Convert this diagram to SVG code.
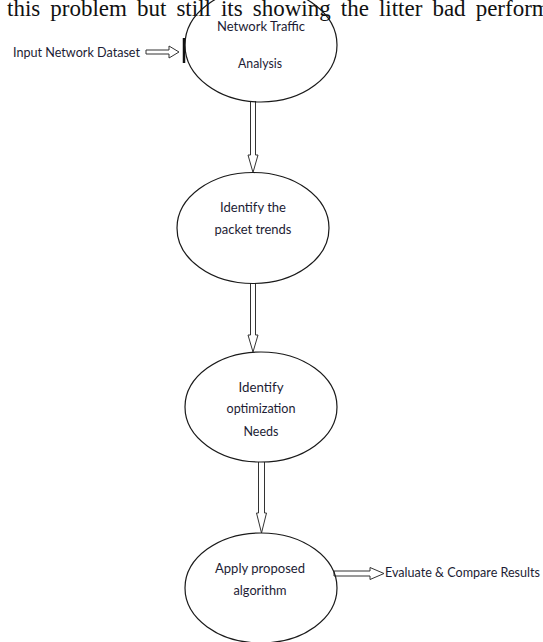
<svg xmlns="http://www.w3.org/2000/svg" width="543" height="642" viewBox="0 0 543 642">
<style>
.bg{fill:#ffffff}
.hdr{font-family:"Liberation Serif","Times New Roman",serif;font-size:23px;fill:#111;word-spacing:4.3px}
.lbl{font-family:Lato,"Liberation Sans",Arial,sans-serif;font-size:14px;fill:#1c1c34}
.mid{text-anchor:middle}
.node{fill:none;stroke:#1a1a1a;stroke-width:1.2}
.arr{fill:#ffffff;stroke:#333;stroke-width:1}
.bar{stroke:#111;stroke-width:2.5}
</style>
<rect class="bg" x="0" y="0" width="543" height="642"/>
<text class="hdr" x="7" y="16">this problem but still its showing the litter bad perform</text>
<g id="connectors">
  <path class="arr" d="M146,50 H169 V46 L179,52 L169,58 V54 H146 Z"/>
  <line class="bar" x1="184" y1="38" x2="184" y2="63"/>
  <path class="arr" d="M250.5,101 V155 H248 L253,172.5 L258,155 H255.5 V101"/>
  <path class="arr" d="M250.5,283 V335 H248 L253,352 L258,335 H255.5 V283"/>
  <path class="arr" d="M258.5,462 V513 H256.5 L261.5,533 L266.5,513 H264.5 V462"/>
  <path class="arr" d="M334,571 H370 V567.5 L384,573.5 L370,579.5 V576 H334 Z"/>
</g>
<g id="input">
  <text class="lbl" x="13" y="57" textLength="127" lengthAdjust="spacingAndGlyphs">Input Network Dataset</text>
</g>
<g id="n1">
  <ellipse class="node" cx="261" cy="45" rx="76" ry="57"/>
  <text class="lbl mid" x="261" y="31" textLength="88" lengthAdjust="spacingAndGlyphs">Network Traffic</text>
  <text class="lbl mid" x="260" y="68" textLength="44" lengthAdjust="spacingAndGlyphs">Analysis</text>
</g>
<g id="n2">
  <ellipse class="node" cx="253" cy="228" rx="76" ry="55.5"/>
  <text class="lbl mid" x="253" y="212" textLength="66" lengthAdjust="spacingAndGlyphs">Identify the</text>
  <text class="lbl mid" x="253" y="234" textLength="77" lengthAdjust="spacingAndGlyphs">packet trends</text>
</g>
<g id="n3">
  <ellipse class="node" cx="261" cy="407" rx="76" ry="55"/>
  <text class="lbl mid" x="261" y="392" textLength="45" lengthAdjust="spacingAndGlyphs">Identify</text>
  <text class="lbl mid" x="261" y="413" textLength="69" lengthAdjust="spacingAndGlyphs">optimization</text>
  <text class="lbl mid" x="261" y="436" textLength="35" lengthAdjust="spacingAndGlyphs">Needs</text>
</g>
<g id="n4">
  <ellipse class="node" cx="261" cy="588" rx="76" ry="55"/>
  <text class="lbl mid" x="260" y="573" textLength="90" lengthAdjust="spacingAndGlyphs">Apply proposed</text>
  <text class="lbl mid" x="260" y="595" textLength="53" lengthAdjust="spacingAndGlyphs">algorithm</text>
</g>
<g id="output">
  <text class="lbl" x="385" y="577" textLength="155" lengthAdjust="spacingAndGlyphs">Evaluate &amp; Compare Results</text>
</g>
</svg>
